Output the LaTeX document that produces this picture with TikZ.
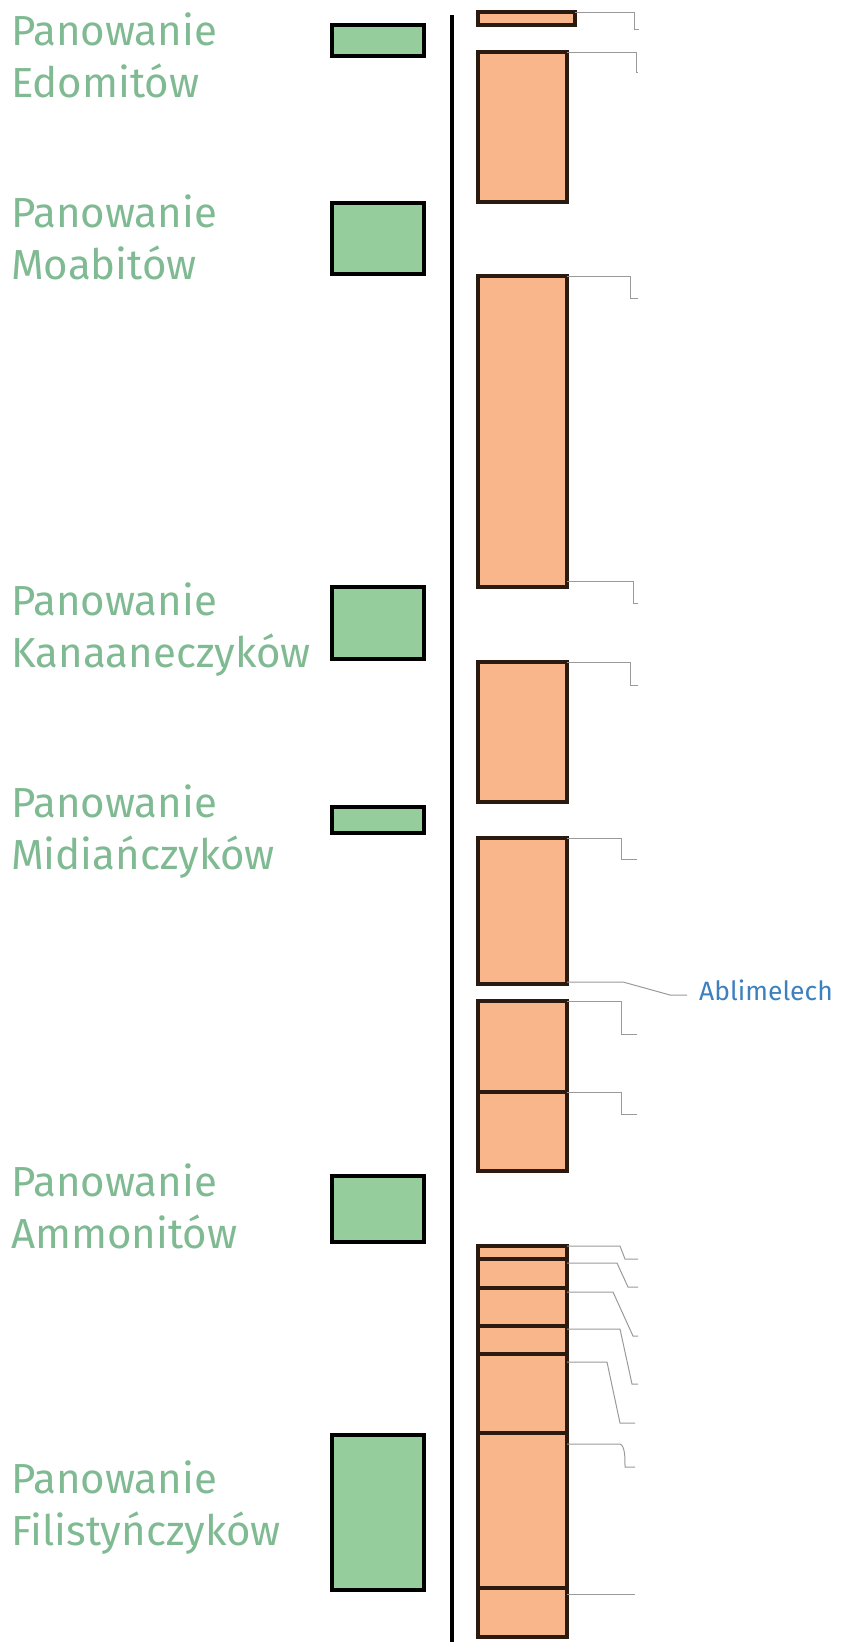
\documentclass[tikz,border=0pt]{standalone}
\usepackage{fontspec}
\setmainfont{Fira Sans}
\usepackage{tikz}

\definecolor{peach}{HTML}{F9B68A}
\definecolor{barbrown}{HTML}{2B1A10}
\definecolor{mint}{HTML}{95CE9C}
\definecolor{rulegreen}{HTML}{80BA92}
\definecolor{leadgray}{HTML}{9A9A9A}
\definecolor{nameblue}{HTML}{3C80BE}

\tikzset{
  obox/.style={draw=barbrown,fill=peach,line width=4.5pt,inner sep=0pt,outer sep=0pt,
    anchor=north west,minimum width=89pt},
  gbox/.style={draw=black,fill=mint,line width=4.5pt,inner sep=0pt,outer sep=0pt,
    anchor=north west,minimum width=92pt},
  rulelabel/.style={text=rulegreen,font=\fontsize{42}{52}\selectfont,align=left,
    inner sep=0pt,anchor=base west},
  lead/.style={draw=leadgray,line width=1pt},
  kinglabel/.style={text=nameblue,font=\fontsize{26.5}{32}\selectfont,
    inner xsep=12pt,inner ysep=0pt,anchor=base west}
}

\begin{document}
\begin{tikzpicture}[x=1pt,y=-1pt]
  \useasboundingbox (0,0) rectangle (841,1642);

  %left
  \node[rulelabel] (edom) at (11,97) {Panowanie\\Edomitów};
  \node[rulelabel] (moab) at (11,279) {Panowanie\\Moabitów};
  \node[rulelabel] (kana) at (11,667) {Panowanie\\Kanaaneczyków};
  \node[rulelabel] (midi) at (11,869) {Panowanie\\Midiańczyków};
  \node[rulelabel] (ammo) at (11,1248) {Panowanie\\Ammonitów};
  \node[rulelabel] (fili) at (11,1545) {Panowanie\\Filistyńczyków};

  \node[gbox,minimum height=31pt] (g1) at (332,25) {};
  \node[gbox,minimum height=71pt] (g2) at (332,203) {};
  \node[gbox,minimum height=72pt] (g3) at (332,587) {};
  \node[gbox,minimum height=26pt] (g4) at (332,807) {};
  \node[gbox,minimum height=66pt] (g5) at (332,1176) {};
  \node[gbox,minimum height=155pt] (g6) at (332,1435) {};

  %axis
  \draw[line width=4pt] (452,15) -- (452,1642);

  %right
  \node[obox,minimum width=97pt,minimum height=13pt] (o1) at (478,12) {};
  \node[obox,minimum height=150pt] (o2) at (478,52) {};
  \node[obox,minimum height=311pt] (o3) at (478,276) {};
  \node[obox,minimum height=140pt] (o4) at (478,662) {};
  \node[obox,minimum height=146pt] (o5) at (478,838) {};
  \node[obox,minimum height=91pt] (o6) at (478,1001) {};
  \node[obox,minimum height=79pt] (o7) at (478,1092) {};

  \node[obox,minimum height=13pt] (p1) at (478,1246) {};
  \node[obox,minimum height=29pt] (p2) at (478,1259) {};
  \node[obox,minimum height=38pt] (p3) at (478,1288) {};
  \node[obox,minimum height=28pt] (p4) at (478,1326) {};
  \node[obox,minimum height=79pt] (p5) at (478,1354) {};
  \node[obox,minimum height=155pt] (p6) at (478,1433) {};
  \node[obox,minimum height=49pt] (p7) at (478,1588) {};

  \node[kinglabel] (abl) at (687,1000) {Ablimelech};

  %leads
  \draw[lead] (o1.north east) -- ++(59,0) -- ++(0,17) -- ++(5,0);
  \draw[lead] (o2.north east) -- ++(69,0) -- ++(0,20) -- ++(2,0);
  \draw[lead] (o3.north east) -- ++(63,0) -- ++(0,22) -- ++(8,0);
  \draw[lead] ([yshift=6pt]o3.south east) -- ++(66,0) -- ++(0,22) -- ++(5,0);
  \draw[lead] (o4.north east) -- ++(63,0) -- ++(0,23) -- ++(8,0);
  \draw[lead] (o5.north east) -- ++(54,0) -- ++(0,21) -- ++(16,0);
  \draw[lead] ([yshift=2pt]o5.south east) -- ++(56,0) -- ++(47,13)
    -- ([yshift=5pt]abl.base west);
  \draw[lead] (o6.north east) -- ++(54,0) -- ++(0,33) -- ++(16,0);
  \draw[lead] (o7.north east) -- ++(54,0) -- ++(0,22) -- ++(16,0);

  \draw[lead] (p1.north east) -- ++(53,0) -- ++(5,13) -- ++(13,0);
  \draw[lead] ([yshift=-4pt]p2.north east) -- ++(50,0) -- ++(11,24) -- ++(10,0);
  \draw[lead] ([yshift=-4pt]p3.north east) -- ++(46,0) -- ++(20,44) -- ++(5,0);
  \draw[lead] ([yshift=-3pt]p4.north east) -- ++(53,0) -- ++(12,55) -- ++(6,0);
  \draw[lead] ([yshift=-8pt]p5.north east) -- ++(40,0) -- ++(13,61) -- ++(15,0);
  \draw[lead] ([yshift=-11pt]p6.north east) -- ++(53,0)
    .. controls ++(5,2) and ++(0,-10) .. ++(5,23) -- ++(10,0);
  \draw[lead] ([yshift=-6pt]p7.north east) -- ++(68,0);
\end{tikzpicture}
\end{document}
